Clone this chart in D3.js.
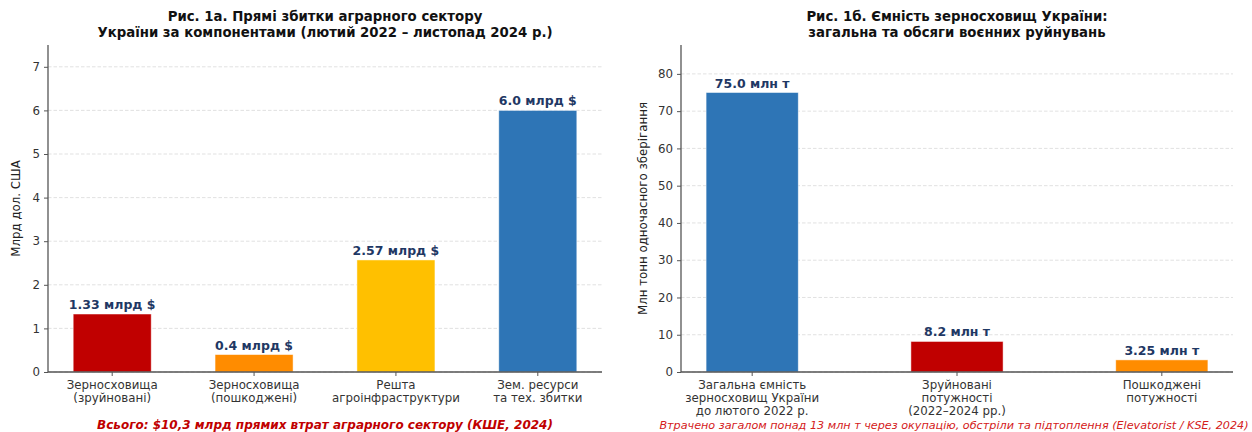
<!DOCTYPE html>
<html>
<head>
<meta charset="utf-8">
<script src="https://cdn.jsdelivr.net/npm/d3@7"></script>
<style>
  html, body { margin: 0; padding: 0; background: #fff; }
  svg { display: block; font-family: "DejaVu Sans", sans-serif; }
</style>
</head>
<body>
<svg id="chart" width="1252" height="432"></svg>
<script>
// --- data: fig 1a (losses, bn USD) ---
var lossCategories = [
  ['Зерносховища', '(зруйновані)'],
  ['Зерносховища', '(пошкоджені)'],
  ['Решта', 'агроінфраструктури'],
  ['Зем. ресурси', 'та тех. збитки']
];
var lossValues = [1.33, 0.4, 2.57, 6.0];
var lossLabels = ['1.33 млрд $', '0.4 млрд $', '2.57 млрд $', '6.0 млрд $'];
var lossTicks = [0, 1, 2, 3, 4, 5, 6, 7];

// --- data: fig 1b (storage capacity, mln t) ---
var capCategories = [
  ['Загальна ємність', 'зерносховищ України', 'до лютого 2022 р.'],
  ['Зруйновані', 'потужності', '(2022–2024 рр.)'],
  ['Пошкоджені', 'потужності']
];
var capValues = [75.0, 8.2, 3.25];
var capLabels = ['75.0 млн т', '8.2 млн т', '3.25 млн т'];
var capTicks = [0, 10, 20, 30, 40, 50, 60, 70, 80];

var lossColors = ['#c00000', '#ff8c00', '#ffc000', '#2e75b6'];
var capColors = ['#2e75b6', '#c00000', '#ff8c00'];

var svg = d3.select('#chart');

function drawPanel(opt) {
    var g = svg.append('g');

    var x = d3.scaleBand()
        .domain(d3.range(opt.values.length))
        .range([opt.x0, opt.x1])
        .paddingInner(opt.padIn)
        .paddingOuter(opt.padOut);

    var y = d3.scaleLinear()
        .domain([0, d3.max(opt.values) * opt.headroom])
        .range([372, 45]);

    // grid
    g.selectAll('line.grid')
        .data(opt.ticks)
        .enter().append('line')
        .attr('class', 'grid')
        .attr('x1', opt.x0).attr('x2', opt.x1)
        .attr('y1', function(d) { return y(d); })
        .attr('y2', function(d) { return y(d); })
        .attr('stroke', '#d9d9d9')
        .attr('stroke-width', 0.8)
        .attr('stroke-dasharray', '3.5,2');

    // bars
    g.selectAll('rect')
        .data(opt.values)
        .enter().append('rect')
        .attr('x', function(d, i) { return x(i); })
        .attr('width', x.bandwidth())
        .attr('y', function(d) { return y(d); })
        .attr('height', function(d) { return y(0) - y(d); })
        .attr('fill', function(d, i) { return opt.colors[i]; })
        .attr('stroke', '#fff')
        .attr('stroke-opacity', 0.6)
        .attr('stroke-width', 0.8);

    // value labels
    g.selectAll('text.val')
        .data(opt.values)
        .enter().append('text')
        .attr('class', 'val')
        .attr('x', function(d, i) { return x(i) + x.bandwidth() / 2; })
        .attr('y', function(d) { return y(d) - 5; })
        .attr('text-anchor', 'middle')
        .attr('font-size', 12.5)
        .attr('font-weight', 'bold')
        .attr('fill', '#1f3864')
        .text(function(d, i) { return opt.labels[i]; });

    // y axis
    var yAxis = g.append('g')
        .attr('transform', 'translate(' + opt.x0 + ',0)')
        .call(d3.axisLeft(y).tickValues(opt.ticks).tickSize(4).tickPadding(4).tickFormat(d3.format('d')));
    yAxis.select('.domain').remove();
    yAxis.selectAll('.tick line').attr('stroke', '#555');
    yAxis.selectAll('.tick text')
        .attr('font-size', 11.8)
        .attr('font-family', 'DejaVu Sans')
        .attr('fill', '#333');

    // x axis ticks + multiline labels
    var xAxis = g.append('g')
        .attr('transform', 'translate(0,' + y(0) + ')')
        .call(d3.axisBottom(x).tickSize(4).tickFormat(''));
    xAxis.select('.domain').remove();
    xAxis.selectAll('.tick line').attr('stroke', '#555');
    xAxis.selectAll('.tick').each(function(i) {
        var t = d3.select(this).append('text')
            .attr('text-anchor', 'middle')
            .attr('font-size', 11.8)
            .attr('font-family', 'DejaVu Sans')
            .attr('fill', '#333');
        opt.categories[i].forEach(function(line, k) {
            t.append('tspan').attr('x', 0).attr('y', 17 + k * 13.2).text(line);
        });
    });

    // spines
    g.append('line')
        .attr('x1', opt.x0).attr('x2', opt.x0)
        .attr('y1', 45).attr('y2', y(0))
        .attr('stroke', '#555').attr('stroke-width', 1.3);
    g.append('line')
        .attr('x1', opt.x0).attr('x2', opt.x1)
        .attr('y1', y(0)).attr('y2', y(0))
        .attr('stroke', '#555').attr('stroke-width', 1.3);

    // y label
    g.append('text')
        .attr('transform', 'translate(' + opt.ylabelX + ',' + ((45 + 372) / 2) + ') rotate(-90)')
        .attr('text-anchor', 'middle')
        .attr('font-size', 11.8)
        .attr('fill', '#222')
        .text(opt.ylabel);

    // title
    var cx = (opt.x0 + opt.x1) / 2;
    var title = g.append('text')
        .attr('text-anchor', 'middle')
        .attr('font-size', 13.3)
        .attr('font-weight', 'bold')
        .attr('fill', '#111');
    opt.title.forEach(function(line, k) {
        title.append('tspan').attr('x', cx).attr('y', 21 + k * 15.5).text(line);
    });

    // footnote
    g.append('text')
        .attr('x', opt.noteX)
        .attr('y', 429)
        .attr('text-anchor', 'middle')
        .attr('font-size', opt.noteSize)
        .attr('font-style', 'italic')
        .attr('font-weight', opt.noteWeight)
        .attr('fill', opt.noteColor)
        .text(opt.note);
}

drawPanel({
    values: lossValues, labels: lossLabels, categories: lossCategories,
    colors: lossColors, ticks: lossTicks, headroom: 1.25,
    x0: 48, x1: 602, padIn: 0.45, padOut: 0.1775,
    ylabel: 'Млрд дол. США', ylabelX: 20,
    title: ['Рис. 1а. Прямі збитки аграрного сектору',
            'України за компонентами (лютий 2022 – листопад 2024 р.)'],
    note: 'Всього: $10,3 млрд прямих втрат аграрного сектору (КШЕ, 2024)',
    noteX: 325, noteSize: 12, noteWeight: 'bold', noteColor: '#c00000'
});

drawPanel({
    values: capValues, labels: capLabels, categories: capCategories,
    colors: capColors, ticks: capTicks, headroom: 1.17,
    x0: 681, x1: 1233, padIn: 0.55, padOut: 0.1225,
    ylabel: 'Млн тонн одночасного зберігання', ylabelX: 647,
    title: ['Рис. 1б. Ємність зерносховищ України:',
            'загальна та обсяги воєнних руйнувань'],
    note: 'Втрачено загалом понад 13 млн т через окупацію, обстріли та підтоплення (Elevatorist / KSE, 2024)',
    noteX: 954, noteSize: 11.2, noteWeight: 'normal', noteColor: '#d42020'
});
</script>
</body>
</html>
